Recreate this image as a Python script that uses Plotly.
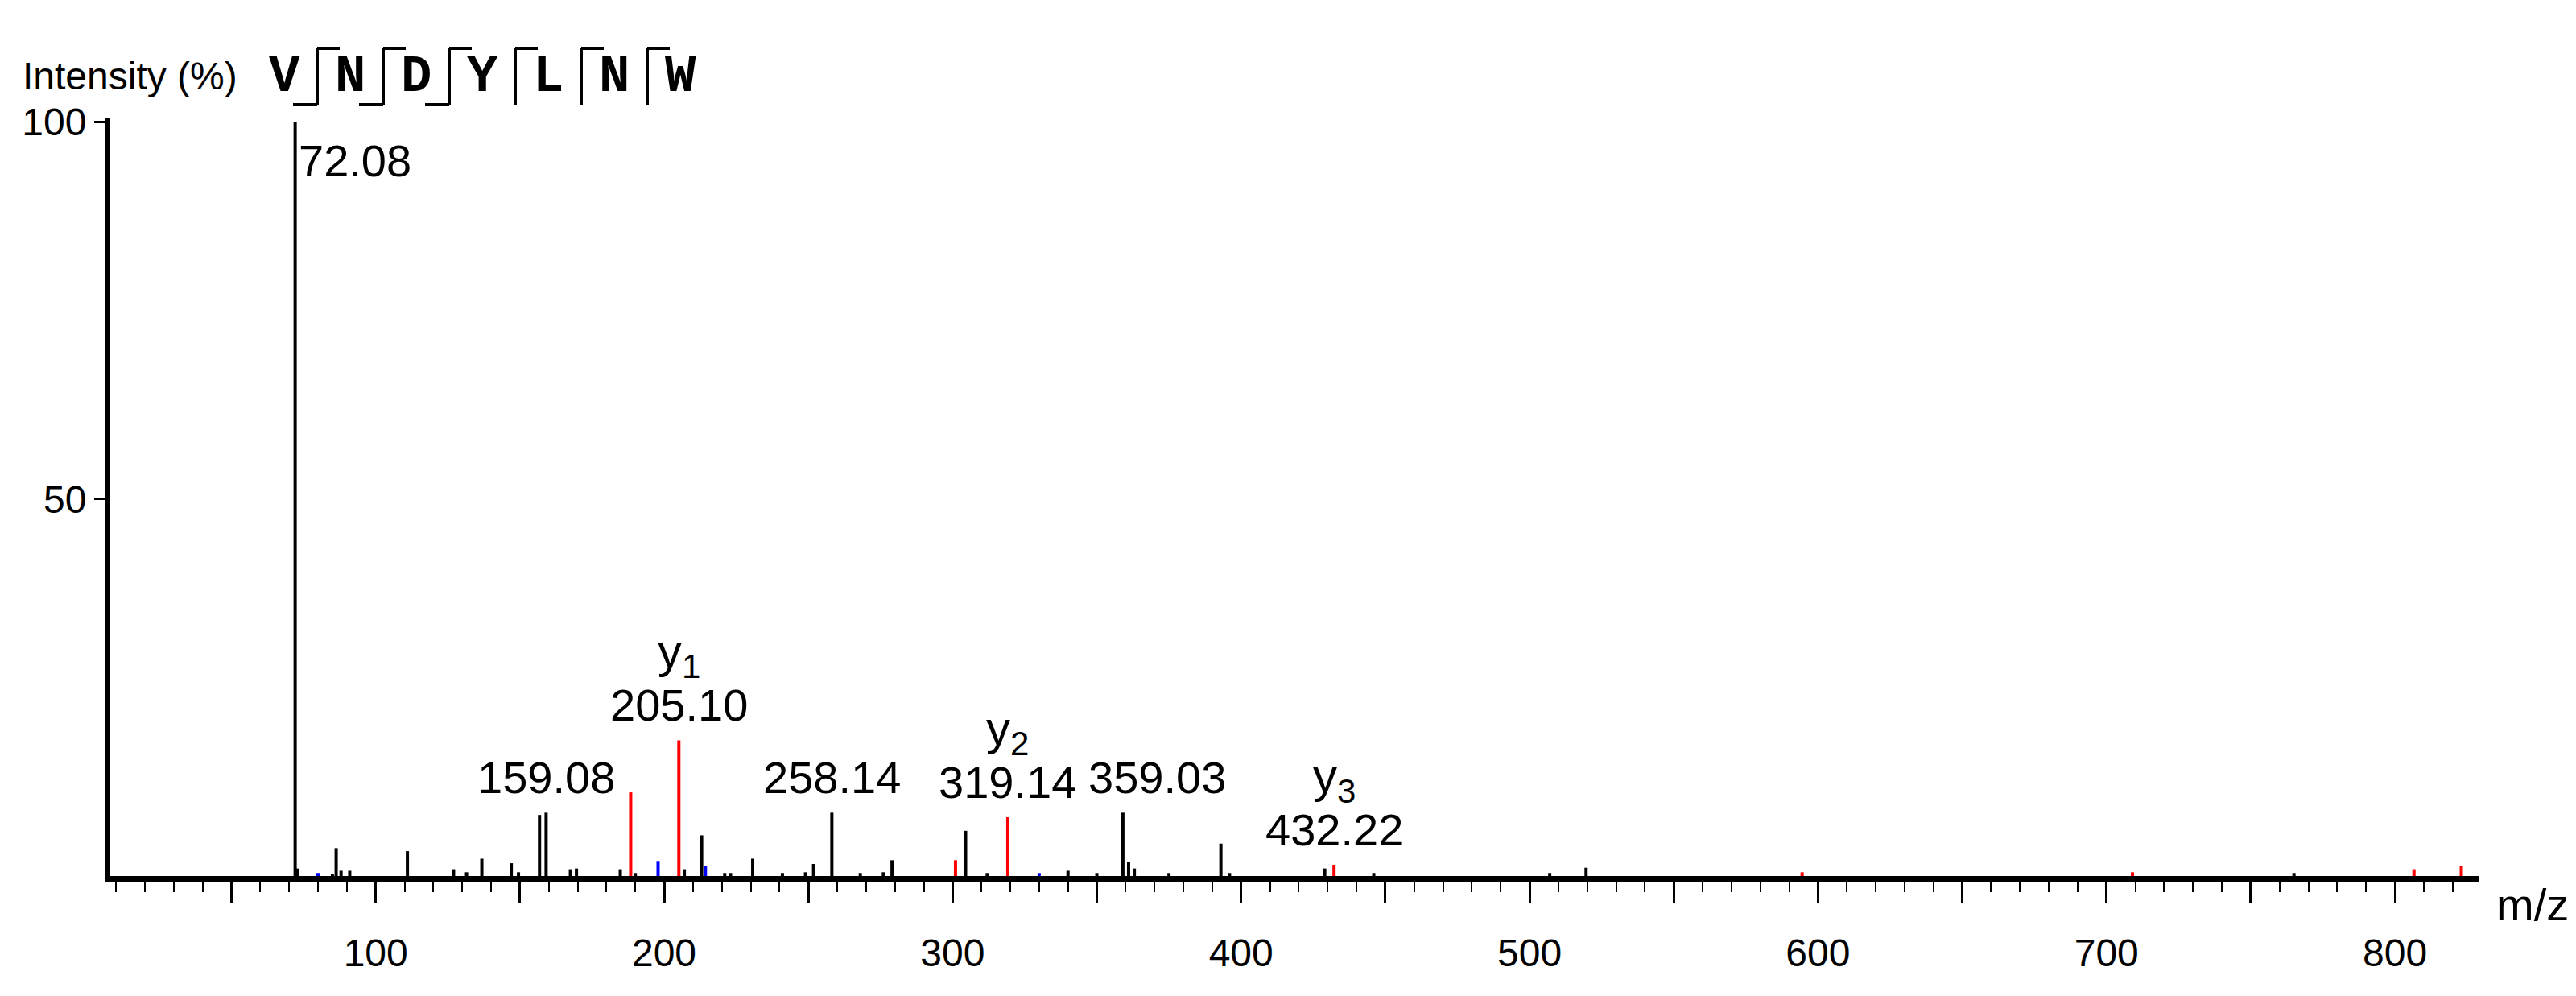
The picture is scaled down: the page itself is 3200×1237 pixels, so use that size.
import plotly.graph_objects as go

# peaks: m/z and relative intensity (%)
black_mz = [72.08, 73.0, 85.0, 86.3, 88.0, 91.0, 111.0, 127.0, 131.5, 136.8, 147.0, 149.5,
            156.8, 159.08, 167.5, 169.6, 184.8, 190.0, 207.0, 213.0, 221.0, 223.0, 230.7, 241.0,
            249.0, 251.8, 258.14, 268.0, 276.0, 279.0, 304.5, 312.0, 340.0, 350.0, 359.03, 361.0,
            363.0, 375.0, 393.0, 396.0, 429.0, 446.0, 507.0, 519.6, 765.0]
black_int = [100.0, 1.0, 0.3, 3.7, 0.7, 0.7, 3.3, 0.9, 0.5, 2.3, 1.7, 0.5,
             8.1, 8.4, 0.9, 1.0, 0.9, 0.4, 0.9, 5.4, 0.4, 0.4, 2.3, 0.4,
             0.5, 1.6, 8.4, 0.4, 0.5, 2.1, 6.0, 0.4, 0.7, 0.4, 8.4, 1.9,
             1.0, 0.4, 4.3, 0.4, 1.0, 0.4, 0.4, 1.1, 0.4]
red_mz = [188.4, 205.10, 301.0, 319.14, 432.22, 594.5, 709.0, 806.6, 823.0]
red_int = [11.1, 18.0, 2.1, 7.8, 1.5, 0.5, 0.5, 0.9, 1.3]
blue_mz = [80.0, 197.9, 214.3, 330.0]
blue_int = [0.4, 2.0, 1.3, 0.4]

# labelled peaks: (m/z, intensity, text, ion name)
labels_mz = [159.08, 205.10, 258.14, 319.14, 359.03, 432.22]
labels_int = [8.4, 18.0, 8.4, 7.8, 8.4, 1.5]
labels_text = ["159.08", "205.10", "258.14", "319.14", "359.03", "432.22"]
labels_ion = ["", "y<sub>1</sub>", "", "y<sub>2</sub>", "", "y<sub>3</sub>"]

sequence = ["V", "N", "D", "Y", "L", "N", "W"]
# fragment break types between residues: True = with bottom hook
break_bottom = [True, True, True, False, False, False]

W, H = 3200, 1237
L, R, T, B = 129, 3071, 139, 1080  # plot area in pixels


def stick_xy(mzs, ints):
    xs, ys = [], []
    for m, i in zip(mzs, ints):
        xs += [m, m, None]
        ys += [0, i, None]
    return xs, ys


def px(x):
    return (x - L) / (R - L)


def py(y):
    return (B - y) / (B - T)


fig = go.Figure()
for mzs, ints, col in [(black_mz, black_int, "black"), (red_mz, red_int, "#ff0000"),
                       (blue_mz, blue_int, "#0000ff")]:
    xs, ys = stick_xy(mzs, ints)
    fig.add_trace(go.Scatter(x=xs, y=ys, mode="lines", line=dict(color=col, width=4),
                             hoverinfo="skip", showlegend=False))

font = dict(family="Liberation Sans", size=56, color="black")

# peak labels
for m, i, t, ion in zip(labels_mz, labels_int, labels_text, labels_ion):
    xa = "left" if t == "359.03" else "center"
    xs = -45 if t == "359.03" else 0
    fig.add_annotation(x=m, y=i, text=t, showarrow=False, xanchor=xa, yanchor="bottom",
                       yshift=10, xshift=xs, font=font)
    if ion:
        fig.add_annotation(x=m, y=i, text=ion, showarrow=False, xanchor="center",
                           yanchor="bottom", yshift=66, font=dict(family="Liberation Sans", size=60))
fig.add_annotation(x=72.08, y=100, text="72.08", showarrow=False, xanchor="left", yanchor="top",
                   xshift=2, yshift=-14, font=font)

# titles
fig.add_annotation(xref="paper", yref="paper", x=px(18), y=py(86), text="Intensity (%)",
                   showarrow=False, xanchor="left", yanchor="middle",
                   font=dict(family="Liberation Sans", size=48))
fig.add_annotation(xref="paper", yref="paper", x=px(R + 20), y=py(1082), text="m/z",
                   showarrow=False, xanchor="left", yanchor="top", font=font)

# peptide sequence with fragment brackets
x0, step = 345, 82
for k, aa in enumerate(sequence):
    fig.add_annotation(xref="paper", yref="paper", x=px(x0 + k * step), y=py(88), text="<b>" + aa + "</b>",
                       showarrow=False, xanchor="center", yanchor="middle",
                       font=dict(family="Liberation Mono", size=64, color="black"))
for k, bottom in enumerate(break_bottom):
    xb = x0 + k * step + 41
    line = dict(color="black", width=4)
    fig.add_shape(type="line", xref="paper", yref="paper", x0=px(xb), x1=px(xb), y0=py(52), y1=py(122), line=line)
    fig.add_shape(type="line", xref="paper", yref="paper", x0=px(xb), x1=px(xb + 28), y0=py(52), y1=py(52), line=line)
    if bottom:
        fig.add_shape(type="line", xref="paper", yref="paper", x0=px(xb - 30), x1=px(xb), y0=py(122), y1=py(122), line=line)

fig.update_layout(
    width=W, height=H, paper_bgcolor="white", plot_bgcolor="white",
    margin=dict(l=L, r=W - R, t=T, b=H - B),
    font=dict(family="Liberation Sans", size=48, color="black"),
    xaxis=dict(range=[8, 829], showgrid=False, zeroline=False, showline=True, linecolor="black",
               linewidth=8, ticks="outside", tickvals=list(range(50, 850, 50)),
               ticktext=[str(v) if v % 100 == 0 else "" for v in range(50, 850, 50)],
               ticklen=26, tickwidth=3, tickcolor="black", ticklabelstandoff=20,
               minor=dict(dtick=10, ticklen=12, tickwidth=2, tickcolor="black", ticks="outside")),
    yaxis=dict(range=[0, 100.5], showgrid=False, zeroline=False, showline=True, linecolor="black",
               linewidth=6, ticks="outside", tickvals=[50, 100], ticklen=14, tickwidth=3,
               tickcolor="black"),
)

fig.write_html("out.html")
